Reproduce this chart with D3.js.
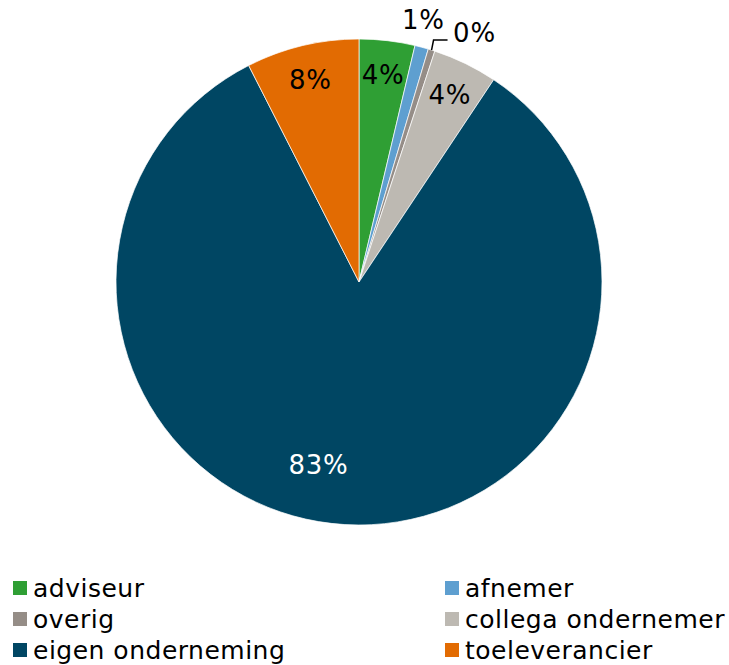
<!DOCTYPE html>
<html lang="nl">
<head>
<meta charset="utf-8">
<title>Pie</title>
<script src="https://cdn.jsdelivr.net/npm/d3@7"></script>
<style>
  body { margin: 0; background: #fff; }
  text { font-family: "DejaVu Sans", Verdana, sans-serif; }
</style>
</head>
<body>
<div id="chart"></div>
<script>
// data, clockwise from 12 o'clock
var categories = ["adviseur", "afnemer", "overig", "collega ondernemer", "eigen onderneming", "toeleverancier"];
var values = [3.7, 0.9, 0.45, 4.3, 83.15, 7.5];
var labels = ["4%", "1%", "0%", "4%", "83%", "8%"];
var colors = ["#2f9f34", "#5e9fd0", "#958d87", "#bdb9b2", "#004663", "#e26b02"];
// legend is laid out in two columns
var legendOrder = ["adviseur", "afnemer", "overig", "collega ondernemer", "eigen onderneming", "toeleverancier"];

var w = 729, h = 665;
var cx = 359, cy = 282, radius = 243;

var svg = d3.select("#chart").append("svg")
    .attr("width", w)
    .attr("height", h);

var color = d3.scaleOrdinal().domain(categories).range(colors);

var pie = d3.pie().sort(null).value(function(d) { return d.value; });
var data = categories.map(function(c, i) { return { name: c, value: values[i], label: labels[i] }; });
var arcs = pie(data);

var arc = d3.arc().innerRadius(0).outerRadius(radius);
var labelArc = d3.arc().innerRadius(208).outerRadius(208);

var g = svg.append("g").attr("transform", "translate(" + cx + "," + cy + ")");

g.selectAll("path")
    .data(arcs)
    .enter()
    .append("path")
    .attr("d", arc)
    .attr("fill", function(d) { return color(d.data.name); })
    .attr("stroke", "#fff")
    .attr("stroke-width", 0.7);

// labels
arcs.forEach(function(d) {
    var pos, fill = "#000";
    if (d.data.name == "eigen onderneming") {
        // big slice: Excel puts it a bit off the middle
        var a = (d.startAngle + d.endAngle) / 2 + 0.16;
        pos = [Math.sin(a) * 187, -Math.cos(a) * 187];
        fill = "#fff";
    } else if (d.data.name == "afnemer") {
        var a = (d.startAngle + d.endAngle) / 2 - 0.02;
        pos = [Math.sin(a) * 270, -Math.cos(a) * 270];
    } else if (d.data.name == "overig") {
        // leader line to label outside
        var a = (d.startAngle + d.endAngle) / 2;
        var p0 = [Math.sin(a) * radius, -Math.cos(a) * radius];
        var p1 = [p0[0] + 2, p0[1] - 10];
        var p2 = [p1[0] + 14, p1[1]];
        g.append("path")
            .attr("d", d3.line()([p0, p1, p2]))
            .attr("fill", "none")
            .attr("stroke", "#000")
            .attr("stroke-width", 1.5);
        pos = [p2[0] + 27, p1[1] - 7];
    } else {
        pos = labelArc.centroid(d);
    }
    g.append("text")
        .attr("x", pos[0])
        .attr("y", pos[1])
        .attr("text-anchor", "middle")
        .attr("dominant-baseline", "central")
        .attr("font-size", "26px")
        .attr("letter-spacing", "0.8px")
        .attr("fill", fill)
        .text(d.data.label);
});

// legend
var legend = svg.append("g");
var item = legend.selectAll("g")
    .data(legendOrder)
    .enter()
    .append("g")
    .attr("transform", function(d, i) {
        var col = i % 2, row = Math.floor(i / 2);
        return "translate(" + (13 + col * 432) + "," + (581 + row * 31) + ")";
    });

item.append("rect")
    .attr("width", 14)
    .attr("height", 14)
    .attr("fill", function(d) { return color(d); });

item.append("text")
    .attr("x", 20)
    .attr("y", 7)
    .attr("dominant-baseline", "central")
    .attr("font-size", "25px")
    .attr("letter-spacing", "0.5px")
    .attr("fill", "#000")
    .text(function(d) { return d; });
</script>
</body>
</html>
